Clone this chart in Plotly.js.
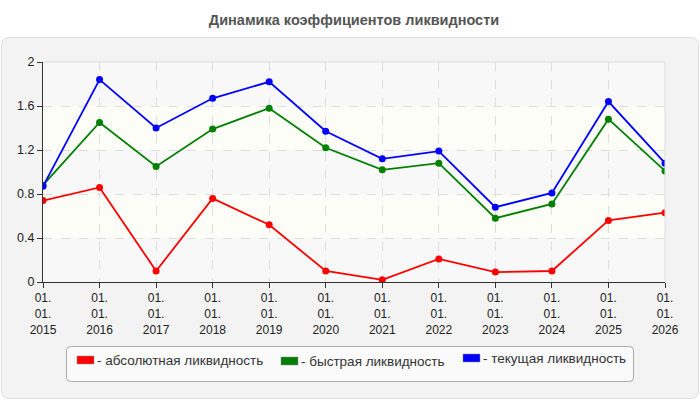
<!DOCTYPE html>
<html><head><meta charset="utf-8">
<script src="https://cdn.plot.ly/plotly-3.0.1.min.js"></script>
<style>html,body{margin:0;padding:0;background:#fff}#c{width:700px;height:400px}</style>
</head><body><div id="c"></div>
<script>
const categories = ["01.01.2015","01.01.2016","01.01.2017","01.01.2018","01.01.2019","01.01.2020","01.01.2021","01.01.2022","01.01.2023","01.01.2024","01.01.2025","01.01.2026"];
const tickLabels = ["01.<br>01.<br>2015","01.<br>01.<br>2016","01.<br>01.<br>2017","01.<br>01.<br>2018","01.<br>01.<br>2019","01.<br>01.<br>2020","01.<br>01.<br>2021","01.<br>01.<br>2022","01.<br>01.<br>2023","01.<br>01.<br>2024","01.<br>01.<br>2025","01.<br>01.<br>2026"];
const absoluteLiq = [0.74,0.86,0.10,0.76,0.52,0.10,0.02,0.21,0.09,0.10,0.56,0.63];
const quickLiq    = [0.88,1.45,1.05,1.39,1.58,1.22,1.02,1.08,0.58,0.71,1.48,1.01];
const currentLiq  = [0.87,1.84,1.40,1.67,1.82,1.37,1.12,1.19,0.68,0.81,1.64,1.08];
const seriesNames = ["- абсолютная ликвидность","- быстрая ликвидность","- текущая ликвидность"];
const seriesColors = ["#ff0000","#008000","#0000ff"];
const yTicks = [0,0.4,0.8,1.2,1.6,2];
const titleText = "Динамика коэффициентов ликвидности";

const W=700,H=400,L=43,R=35,T=62,B=118;
const pw=W-L-R, ph=H-T-B;
const px=x=>(x-L)/pw, py=y=>(H-B-y)/ph;
const FONT='Liberation Sans, Arial, sans-serif';

const series=[absoluteLiq,quickLiq,currentLiq];
const traces=series.map((s,i)=>({
  x:categories,y:s,type:'scatter',mode:'lines+markers',name:seriesNames[i],
  line:{color:seriesColors[i],width:1.8},marker:{color:seriesColors[i],size:7},
  showlegend:false,hoverinfo:'skip'
}));

const shapes=[];
function rrect(x0p,y0p,x1p,y1p,rad){
  const x0=px(x0p),x1=px(x1p),y0=py(y1p),y1=py(y0p);
  const r=rad/pw, rv=rad/ph;
  return `M ${x0+r} ${y1} L ${x1-r} ${y1} Q ${x1} ${y1} ${x1} ${y1-rv} L ${x1} ${y0+rv} Q ${x1} ${y0} ${x1-r} ${y0} L ${x0+r} ${y0} Q ${x0} ${y0} ${x0} ${y0+rv} L ${x0} ${y1-rv} Q ${x0} ${y1} ${x0+r} ${y1} Z`;
}
shapes.push({type:'path',xref:'paper',yref:'paper',layer:'below',path:rrect(1.5,37.5,698.5,398.5,8),
  fillcolor:'#f3f3f3',line:{color:'#dddddd',width:1}});
shapes.push({type:'rect',xref:'paper',yref:'paper',x0:0,x1:1,y0:0,y1:1,layer:'below',fillcolor:'#ffffff',line:{width:0}});
for(let i=0;i<yTicks.length-1;i++){
  shapes.push({type:'rect',xref:'paper',yref:'y',x0:0,x1:1,y0:yTicks[i],y1:yTicks[i+1],layer:'below',
    fillcolor: i%2===0 ? '#f8f8f8' : '#fdfdf7', line:{width:0}});
}
shapes.push({type:'line',xref:'paper',yref:'paper',x0:0,x1:1,y0:1,y1:1,line:{color:'#dddddd',width:1}});
shapes.push({type:'line',xref:'paper',yref:'paper',x0:1,x1:1,y0:0,y1:1,line:{color:'#dddddd',width:1}});
shapes.push({type:'path',xref:'paper',yref:'paper',path:rrect(66.5,346.5,633.5,381.5,4),
  fillcolor:'#fafafa',line:{color:'#aaaaaa',width:1}});

const annotations=[];
const legX=[77,281,463], legY=[360,361,358];
legX.forEach((lx,i)=>{
  shapes.push({type:'rect',xref:'paper',yref:'paper',x0:px(lx),x1:px(lx+17),y0:py(legY[i]+4),y1:py(legY[i]-4),
    fillcolor:seriesColors[i],line:{color:'#888888',width:0.5}});
  annotations.push({xref:'paper',yref:'paper',x:px(lx+18),y:py(legY[i]),xanchor:'left',yanchor:'middle',
    text:seriesNames[i],showarrow:false,font:{family:FONT,size:13.5,color:'#333333'}});
});

const layout={
  width:W,height:H,margin:{l:L,r:R,t:T,b:B},
  paper_bgcolor:'#ffffff',plot_bgcolor:'rgba(0,0,0,0)',
  title:{text:'<b>'+titleText+'</b>',x:0.5,xref:'paper',y:1-20/H,yanchor:'middle',xanchor:'center',
    font:{family:FONT,size:14.5,color:'#555555'}},
  xaxis:{type:'category',range:[0,categories.length-1],tickvals:categories,ticktext:tickLabels,
    showgrid:true,gridcolor:'#dddddd',griddash:'dash',gridwidth:1,
    showline:true,linecolor:'#333333',linewidth:1,ticks:'outside',ticklen:5,tickcolor:'#333333',
    tickfont:{family:FONT,size:12,color:'#222222'},zeroline:false,fixedrange:true},
  yaxis:{range:[0,2],tickvals:yTicks,ticktext:yTicks.map(String),
    showgrid:true,gridcolor:'#dddddd',griddash:'dash',gridwidth:1,
    showline:true,linecolor:'#333333',linewidth:1,ticks:'outside',ticklen:5,tickcolor:'#333333',
    tickfont:{family:FONT,size:12.5,color:'#222222'},zeroline:false,fixedrange:true},
  shapes:shapes,annotations:annotations,showlegend:false
};
Plotly.newPlot('c',traces,layout,{displayModeBar:false,staticPlot:true});
</script></body></html>
